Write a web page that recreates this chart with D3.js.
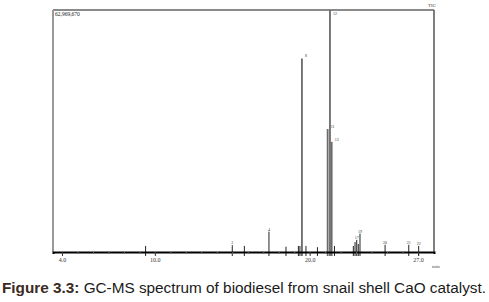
<!DOCTYPE html>
<html>
<head>
<meta charset="utf-8">
<script src="https://cdn.jsdelivr.net/npm/d3@7"></script>
<style>
  body { margin: 0; background: #fff; }
  svg { display: block; }
</style>
</head>
<body>
<div class="gcms"></div>
<script>
// retention times (min) and relative abundance (% of largest peak)
var peakTimes = [9.40, 15.00, 15.78, 17.37, 18.47, 19.27, 19.37, 19.50, 19.76, 20.50,
                 21.16, 21.31, 21.42, 21.60, 22.82, 22.93, 23.04, 23.14, 23.25,
                 24.87, 26.40, 27.04];
var peakHeights = [2.5, 2.8, 2.5, 8.4, 2.2, 2.5, 2.5, 80.0, 2.5, 2.0,
                   50.8, 100, 45.5, 2.5, 2.5, 4.1, 5.0, 3.3, 7.6,
                   3.0, 3.0, 2.5];
var peakNums = d3.range(1, peakTimes.length + 1);
// peak numbers printed on the trace (crowded ones are left out)
var labelledPeaks = [2, 4, 8, 11, 12, 13, 17, 19, 20, 21, 22];
var tickLabels = [4.0, 10.0, 20.0, 27.0];
var minorTicks = d3.range(4, 28, 1);

var width = 489, height = 302;
var margin = {top: 10, right: 55, bottom: 50, left: 53};

var svg = d3.select(".gcms").append("svg")
    .attr("width", width)
    .attr("height", height);

var x = d3.scaleLinear()
    .domain([3.42, 28.03])
    .range([margin.left, width - margin.right]);

var y = d3.scaleLinear()
    .domain([0, 100])
    .range([height - margin.bottom, margin.top]);

var x0 = x.range()[0], x1 = x.range()[1];
var yb = y(0), yt = y(100);

// frame
svg.append("line").attr("x1", x0).attr("x2", x1).attr("y1", yt).attr("y2", yt)
    .attr("stroke", "#8a8a8a").attr("stroke-width", 2);
svg.append("line").attr("x1", x0).attr("x2", x0).attr("y1", yt).attr("y2", yb)
    .attr("stroke", "#9a9a9a").attr("stroke-width", 2);
svg.append("line").attr("x1", x1).attr("x2", x1).attr("y1", yt).attr("y2", yb)
    .attr("stroke", "#555").attr("stroke-width", 1.5);

// peaks
svg.selectAll("line.peak")
    .data(peakTimes)
    .enter()
    .append("line")
    .attr("class", "peak")
    .attr("x1", function(d) { return x(d); })
    .attr("x2", function(d) { return x(d); })
    .attr("y1", yb + 4)
    .attr("y2", function(d, i) { return y(peakHeights[i]); })
    .attr("stroke", function(d, i) { return peakHeights[i] > 20 ? "#6a6a6a" : "#222"; })
    .attr("stroke-width", function(d, i) { return peakHeights[i] > 20 ? 1.8 : 1; });

// small peak numbers
var labelData = peakTimes.map(function(d, i) {
    return {t: d, h: peakHeights[i], n: peakNums[i]};
  }).filter(function(d) { return labelledPeaks.indexOf(d.n) >= 0; });

svg.selectAll("text.pnum")
    .data(labelData)
    .enter()
    .append("text")
    .attr("class", "pnum")
    .attr("x", function(d) { return d.h > 40 ? x(d.t) + 3 : x(d.t); })
    .attr("y", function(d) { return Math.max(y(d.h) - 1, yt + 5); })
    .attr("text-anchor", function(d) { return d.h > 40 ? "start" : "middle"; })
    .attr("font-family", "Liberation Serif, serif")
    .attr("font-size", 4)
    .attr("fill", "#333")
    .text(function(d) { return d.n; });

// baseline axis
var axisMinor = d3.axisBottom(x)
    .tickValues(minorTicks)
    .tickSize(2)
    .tickFormat("");
svg.append("g")
    .attr("transform", "translate(0," + yb + ")")
    .call(axisMinor)
    .call(function(g) {
      g.select(".domain").attr("stroke", "#000").attr("stroke-width", 2);
      g.selectAll(".tick line").attr("stroke", "#666");
    });

var axisMajor = d3.axisBottom(x)
    .tickValues(tickLabels)
    .tickSize(4)
    .tickPadding(2)
    .tickFormat(d3.format(".1f"));
svg.append("g")
    .attr("transform", "translate(0," + yb + ")")
    .call(axisMajor)
    .call(function(g) {
      g.select(".domain").remove();
      g.selectAll(".tick line").attr("stroke", "#333");
      g.selectAll(".tick text")
        .attr("font-family", "Liberation Serif, serif")
        .attr("font-size", 6)
        .attr("fill", "#333");
    });

svg.append("text")
    .attr("x", x1 - 2).attr("y", yb + 16)
    .attr("font-family", "Liberation Serif, serif")
    .attr("font-size", 5)
    .attr("fill", "#444")
    .text("min");

svg.append("text")
    .attr("x", x0 + 2).attr("y", yt + 6)
    .attr("font-family", "Liberation Serif, serif")
    .attr("font-size", 5.5)
    .attr("fill", "#222")
    .text("62,969,670");

svg.append("text")
    .attr("x", x1 - 6).attr("y", yt - 3)
    .attr("font-family", "Liberation Serif, serif")
    .attr("font-size", 5)
    .attr("fill", "#444")
    .text("TIC");

// caption
var cap = svg.append("text")
    .attr("x", 2).attr("y", 293)
    .attr("font-family", "Liberation Sans, Arial, sans-serif")
    .attr("font-size", 14)
    .attr("textLength", 484)
    .attr("lengthAdjust", "spacingAndGlyphs")
    .attr("fill", "#1a1a1a");
cap.append("tspan").attr("font-weight", "bold").attr("fill", "#3b2a1e").text("Figure 3.3:");
cap.append("tspan").text(" GC-MS spectrum of biodiesel from snail shell CaO catalyst.");
</script>
</body>
</html>
